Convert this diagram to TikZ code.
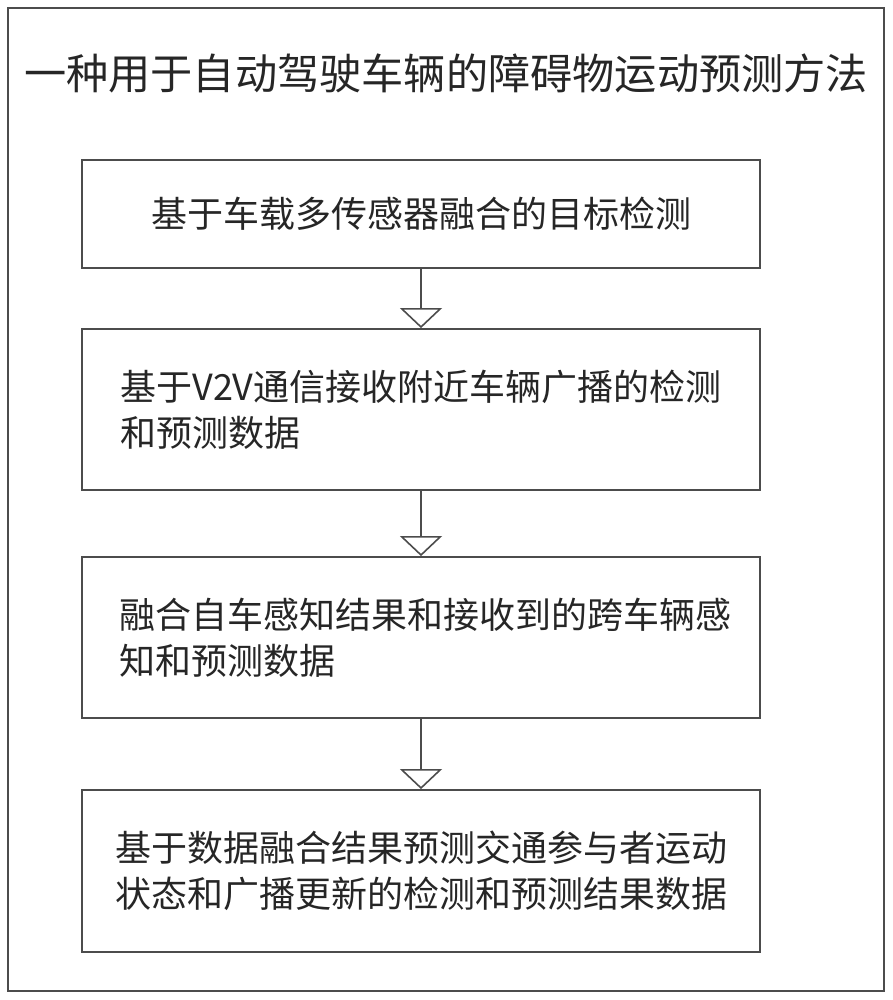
\documentclass[tikz,border=0pt]{standalone}
\usepackage{fontspec}
\setmainfont{Noto Sans CJK SC}
\usetikzlibrary{arrows.meta}
\tikzset{
  frame/.style={draw=black!70, line width=1.8pt},
  stepbox/.style={draw=black!70, line width=1.8pt, minimum width=678pt, align=left,
    font=\fontsize{36pt}{46pt}\selectfont, text=black!85, inner sep=0pt},
  flow/.style={draw=black!70, line width=1.6pt, -{Triangle[open, length=20pt, width=42pt, line width=1.6pt]}},
}
\begin{document}
\begin{tikzpicture}[x=1pt,y=-1pt]
\useasboundingbox (0,0) rectangle (892,1000);
\draw[frame] (8,8) rectangle (884,991);
\node[font=\fontsize{42.2pt}{50pt}\selectfont, text=black!85, inner sep=0pt] (title) at (446,73) {一种用于自动驾驶车辆的障碍物运动预测方法};
\node[stepbox, minimum height=108pt] (s1) at (421,214) {基于车载多传感器融合的目标检测};
\node[stepbox, minimum height=161pt] (s2) at (421,409.5) {基于V2V通信接收附近车辆广播的检测\\和预测数据};
\node[stepbox, minimum height=161pt] (s3) at (421,637.5) {\hspace*{8pt}融合自车感知结果和接收到的跨车辆感\\\hspace*{8pt}知和预测数据};
\node[stepbox, minimum height=162pt] (s4) at (421,871) {基于数据融合结果预测交通参与者运动\\状态和广播更新的检测和预测结果数据};
\draw[flow] (s1) -- (s2);
\draw[flow] (s2) -- (s3);
\draw[flow] (s3) -- (s4);
\end{tikzpicture}
\end{document}
